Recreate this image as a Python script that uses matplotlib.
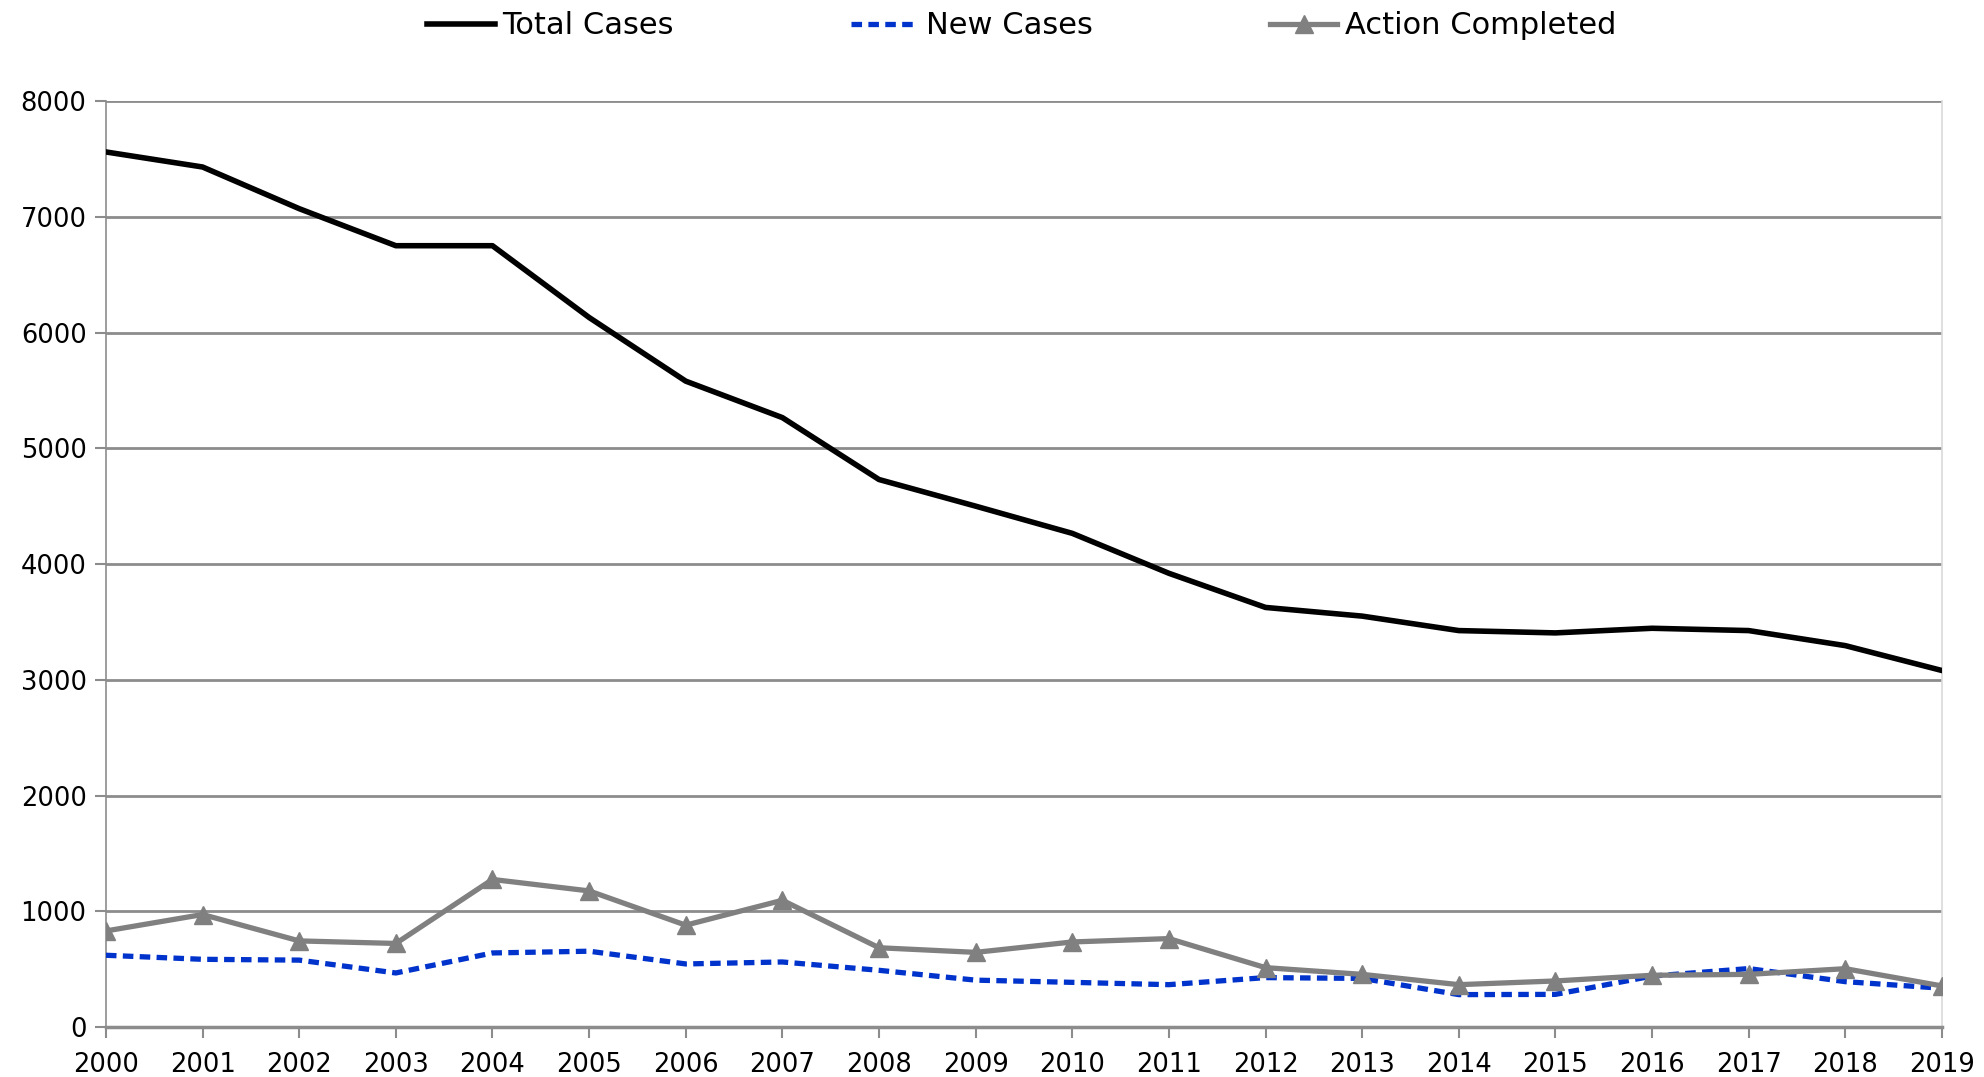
from matplotlib import pyplot as plt
import numpy as np

# data
years = list(range(2000, 2020))
total_cases = [7560, 7430, 7070, 6750, 6750, 6130, 5580, 5265, 4730, 4500,
               4265, 3920, 3625, 3550, 3425, 3405, 3445, 3425, 3295, 3080]
new_cases = [620, 585, 578, 467, 640, 655, 545, 562, 490, 405,
             386, 366, 427, 420, 280, 282, 440, 505, 392, 335]
action_completed = [830, 972, 744, 722, 1275, 1176, 880, 1095, 685, 645,
                    735, 764, 513, 455, 366, 398, 447, 455, 504, 355]
y_ticks = [0, 1000, 2000, 3000, 4000, 5000, 6000, 7000, 8000]

plt.rcParams['font.family'] = ['DejaVu Sans']

fig = plt.figure(figsize=(19.84, 10.77), dpi=100)
ax = fig.add_axes([0.0534, 0.0464, 0.9254, 0.8598])

grid_col = '#8c8c8c'

ax.plot(years, total_cases, color='black', linewidth=4.0, label='Total Cases',
        solid_joinstyle='round', zorder=3)
ax.plot(years, new_cases, color='#0033cc', linewidth=3.8, linestyle=(0, (2.0, 1.2)),
        label='New Cases', zorder=3)
ax.plot(years, action_completed, color='#808080', linewidth=3.8, marker='^',
        markersize=13, label='Action Completed', zorder=4)

ax.set_xlim(2000, 2019)
ax.set_ylim(0, 8000)
ax.set_xticks(years)
ax.set_yticks(y_ticks)
ax.tick_params(axis='both', labelsize=18.5, colors=grid_col, labelcolor='black',
               length=8, width=1.5, direction='out')
ax.tick_params(axis='x', pad=10)
ax.tick_params(axis='y', pad=6)

ax.yaxis.grid(True, color=grid_col, linewidth=2)
ax.set_axisbelow(True)
ax.spines['top'].set_visible(False)
ax.spines['left'].set_color(grid_col)
ax.spines['left'].set_linewidth(1.2)
ax.spines['bottom'].set_color(grid_col)
ax.spines['bottom'].set_linewidth(2.5)
ax.spines['right'].set_color('#d9d9d9')
ax.spines['right'].set_linewidth(1.2)

fig.legend(loc='center', bbox_to_anchor=(0.515, 0.976), ncol=3, frameon=False,
           fontsize=22, handlelength=2.2, handletextpad=0.25, columnspacing=5.8)

plt.savefig('out.png', dpi=100)
